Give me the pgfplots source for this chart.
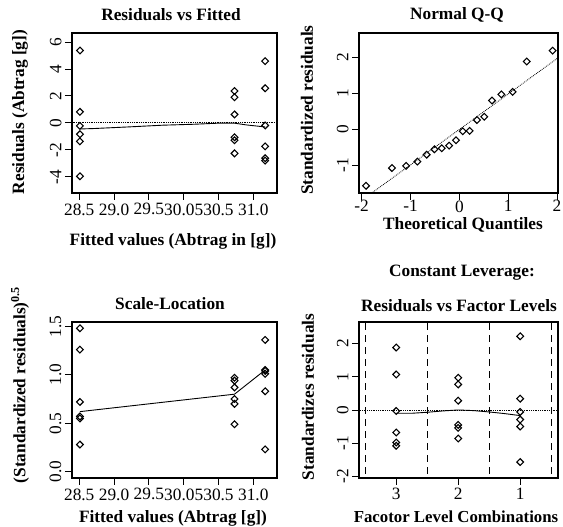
\documentclass[border=0pt]{standalone}
\usepackage{fontspec}
\setmainfont{Liberation Serif}
\usepackage{pgfplots}
\pgfplotsset{compat=1.18}

\newcommand\fs{\fontsize{17.3}{19}\selectfont}

\pgfplotsset{
  rplot/.style={
    scale only axis,
    axis line style={line width=1.1pt},
    tick align=outside,
    major tick length=7pt,
    every tick/.style={black, line width=0.9pt},
    xtick pos=bottom, ytick pos=left,
    /pgf/number format/assume math mode=true,
    ticklabel style={font=\fs},
    yticklabel style={rotate=90, anchor=south},
  },
  pts/.style={only marks, mark=square, mark size=2.4pt, black,
    mark options={rotate=45, line width=1.1pt}},
}

\begin{document}
\begin{tikzpicture}
\useasboundingbox (0,0) rectangle (563pt,527pt);

% Residuals vs Fitted
\begin{axis}[rplot, at={(72pt,334pt)}, anchor=south west,
    width=205pt, height=160pt,
    xmin=28.396, xmax=31.34, ymin=-5.2, ymax=6.67,
    xtick={28.5,29,29.5,30,30.5,31},
    xticklabels={28.5,29.0,29.5,30.05,30.5,31.0},
    ytick={-4,-2,0,2,4,6}]
\addplot[densely dotted, line width=0.8pt] coordinates {(28.3,0) (31.4,0)};
\addplot[pts] coordinates {
  (28.51,5.37) (28.51,0.82) (28.51,-0.22) (28.51,-0.84) (28.51,-1.37) (28.51,-3.96)
  (30.73,2.37) (30.73,1.90) (30.73,0.63) (30.73,-1.07) (30.73,-1.29) (30.73,-2.26)
  (31.17,4.58) (31.17,2.57) (31.17,-0.19) (31.17,-1.74) (31.17,-2.62) (31.17,-2.80)};
\addplot[line width=0.9pt] coordinates {
  (28.51,-0.45) (28.7,-0.42) (29.2,-0.30) (29.7,-0.17) (30.15,-0.10)
  (30.5,-0.02) (30.73,-0.02) (30.9,-0.15) (31.17,-0.30)};
\end{axis}

% Normal Q-Q
\begin{axis}[rplot, at={(359pt,334pt)}, anchor=south west,
    width=199pt, height=160pt,
    xmin=-2.055, xmax=2.02, ymin=-1.76, ymax=2.67,
    xtick={-2,-1,0,1,2}, ytick={-1,0,1,2},
    xticklabel shift=-3pt]
\addplot[densely dotted, line width=0.8pt] coordinates {(-2.1,-2.06) (2.1,2.06)};
\addplot[pts] coordinates {
  (-1.91,-1.56) (-1.38,-1.07) (-1.09,-1.01) (-0.86,-0.89) (-0.67,-0.70)
  (-0.51,-0.55) (-0.36,-0.52) (-0.21,-0.45) (-0.07,-0.30) (0.07,-0.05)
  (0.21,-0.04) (0.36,0.26) (0.51,0.35) (0.67,0.80) (0.86,0.97)
  (1.09,1.04) (1.38,1.88) (1.91,2.18)};
\end{axis}

% Scale-Location
\begin{axis}[rplot, at={(72pt,49pt)}, anchor=south west,
    width=205pt, height=156pt,
    xmin=28.396, xmax=31.34, ymin=-0.065, ymax=1.545,
    xtick={28.5,29,29.5,30,30.5,31},
    xticklabels={28.5,29.0,29.5,30.05,30.5,31.0},
    ytick={0,0.5,1,1.5},
    yticklabel style={/pgf/number format/.cd, fixed, fixed zerofill, precision=1}]
\addplot[pts] coordinates {
  (28.51,1.48) (28.51,1.26) (28.51,0.72) (28.51,0.57) (28.51,0.55) (28.51,0.28)
  (30.73,0.97) (30.73,0.94) (30.73,0.87) (30.73,0.75) (30.73,0.70) (30.73,0.49)
  (31.17,1.36) (31.17,1.05) (31.17,1.04) (31.17,1.01) (31.17,0.83) (31.17,0.23)};
\addplot[line width=0.9pt] coordinates {(28.51,0.62) (30.73,0.80) (31.17,1.05)};
\end{axis}

% Constant Leverage
\begin{axis}[rplot, at={(359pt,49pt)}, anchor=south west,
    width=199pt, height=156pt,
    xmin=0.40, xmax=3.61, ymin=-2.05, ymax=2.65,
    xtick={1,2,3}, xticklabels={3,2,1}, ytick={-2,-1,0,1,2}]
\addplot[densely dotted, line width=0.8pt] coordinates {(0.3,0) (3.7,0)};
\addplot[dash pattern=on 7pt off 5pt, line width=1pt] coordinates {(0.5,-3) (0.5,3)};
\addplot[dash pattern=on 7pt off 5pt, line width=1pt] coordinates {(1.5,-3) (1.5,3)};
\addplot[dash pattern=on 7pt off 5pt, line width=1pt] coordinates {(2.5,-3) (2.5,3)};
\addplot[dash pattern=on 7pt off 5pt, line width=1pt] coordinates {(3.5,-3) (3.5,3)};
\addplot[pts] coordinates {
  (1,1.88) (1,1.07) (1,-0.03) (1,-0.68) (1,-0.98) (1,-1.08)
  (2,0.97) (2,0.77) (2,0.28) (2,-0.45) (2,-0.54) (2,-0.86)
  (3,2.22) (3,0.34) (3,-0.06) (3,-0.29) (3,-0.50) (3,-1.57)};
\addplot[line width=0.9pt] coordinates {
  (1,-0.10) (1.25,-0.10) (1.5,-0.07) (1.75,-0.03) (2,0.0)
  (2.25,-0.02) (2.5,-0.06) (2.75,-0.11) (3,-0.17)};
\end{axis}

% titles and axis labels
\begin{scope}[every node/.style={font=\fs\bfseries, inner sep=0pt}]
\node at (171pt,512pt) {Residuals vs Fitted};
\node at (457pt,512pt) {Normal Q-Q};
\node at (170pt,223pt) {Scale-Location};
\node at (462pt,254pt) {Constant Leverage:};
\node at (459pt,221pt) {Residuals vs Factor Levels};
\node at (173pt,286pt) {Fitted values (Abtrag in [g])};
\node at (463pt,302pt) {Theoretical Quantiles};
\node at (173pt,9pt) {Fitted values (Abtrag [g])};
\node[font=\fontsize{16.8}{19}\selectfont\bfseries] at (456pt,10pt) {Facotor Level Combinations};
\node[rotate=90] at (20pt,415pt) {Residuals (Abtrag [g])};
\node[rotate=90] at (307pt,417pt) {Standardized residuals};
\node[rotate=90] at (20pt,142pt) {(Standardized residuals)\textsuperscript{0.5}};
\node[rotate=90] at (308pt,130pt) {Standardizes residuals};
\end{scope}
\end{tikzpicture}
\end{document}
